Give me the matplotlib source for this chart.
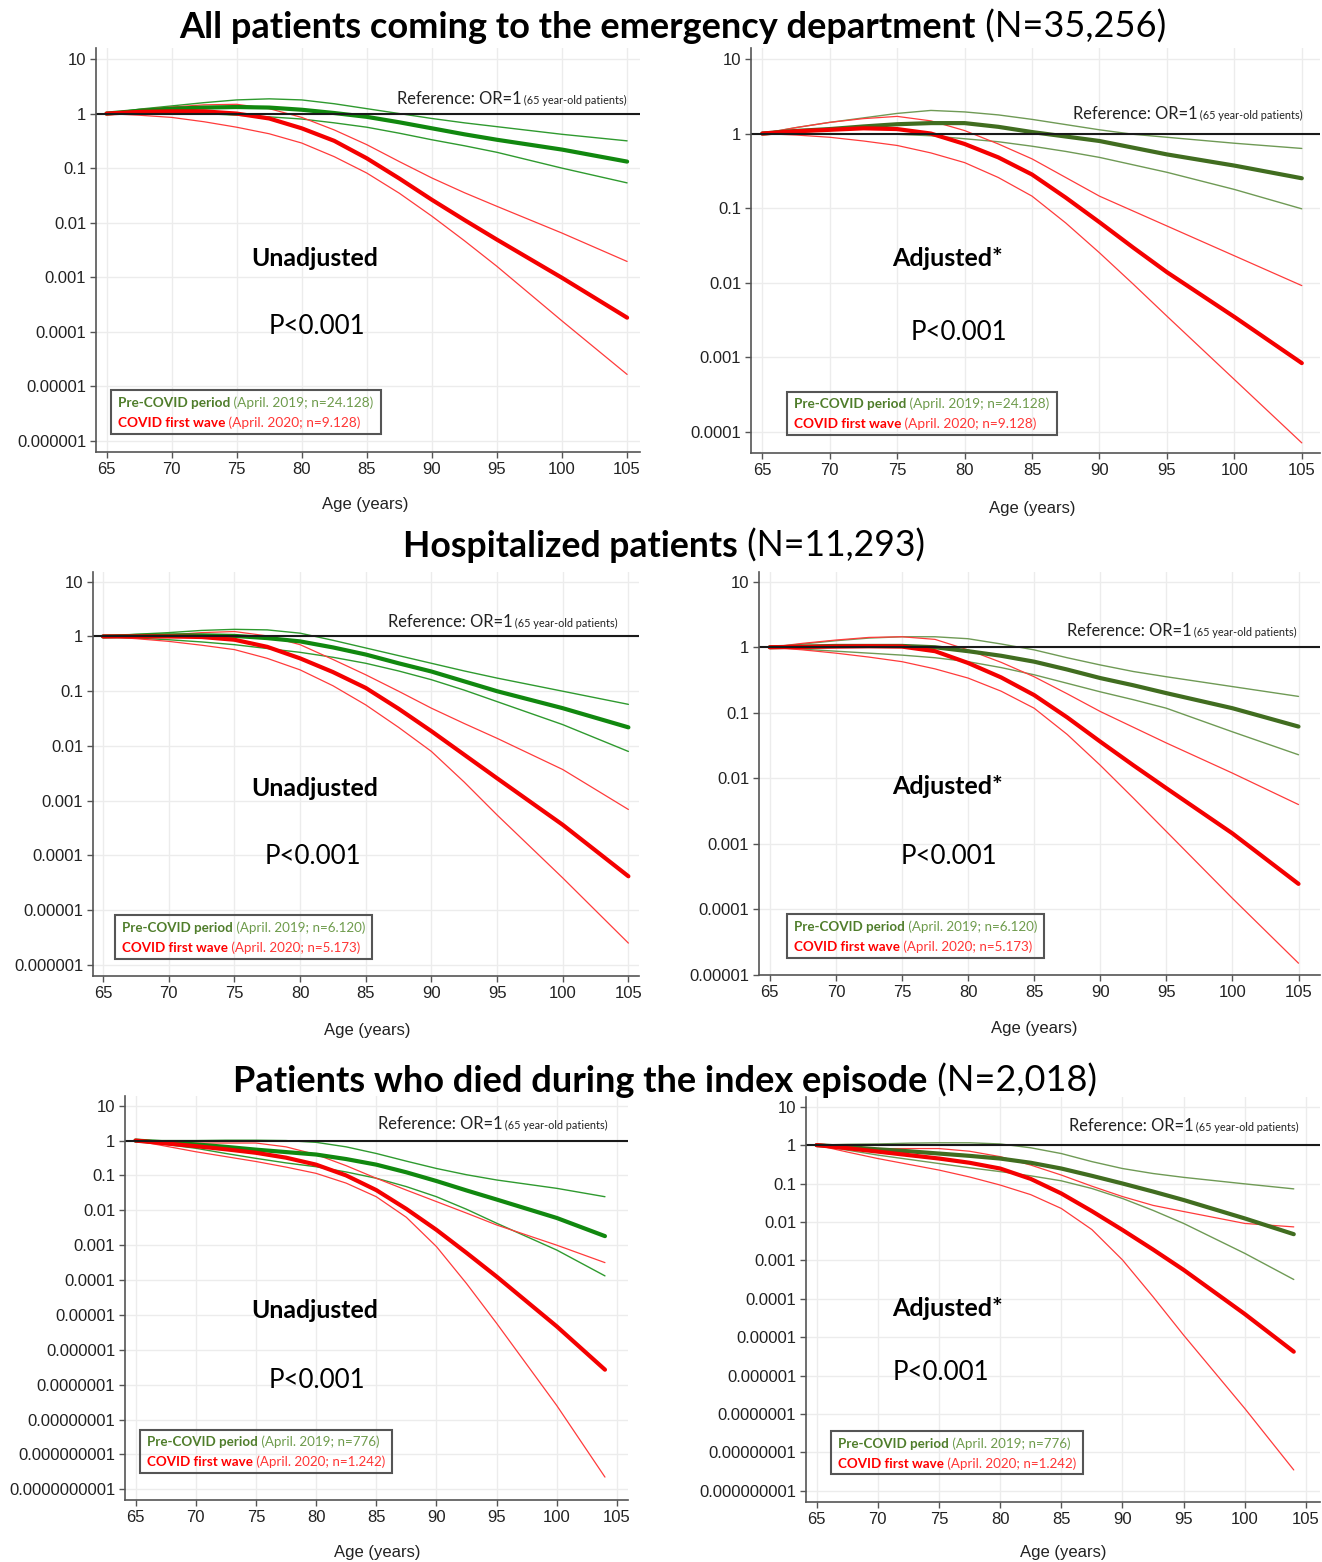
import matplotlib
matplotlib.use('Agg')
import matplotlib.pyplot as plt
from matplotlib.patches import Rectangle
from matplotlib.ticker import FixedLocator, NullLocator
from matplotlib.transforms import IdentityTransform

W, H = 1322, 1562
FUENTE = 'Lato'
EJES = 'Liberation Sans'

VERDE_A = '#11880f'
VERDE_A_FINO = '#2f9a2f'
VERDE_B = '#416d20'
VERDE_B_FINO = '#6f9a55'
ROJO = '#f40000'
ROJO_FINO = '#ff3b3b'
LEY_VERDE = '#4f7d2b'
LEY_VERDE_CLARO = '#6e9b4c'
LEY_ROJO = '#ff0000'
LEY_ROJO_CLARO = '#ff3535'

# Edades (anos)
edad = [65, 67.5, 70, 72.5, 75, 77.5, 80, 82.5, 85, 87.5, 90, 92.5, 95, 100, 105]
edad_muertos = [65, 67.5, 70, 72.5, 75, 77.5, 80, 82.5, 85, 87.5, 90, 92.5, 95, 100, 104]

# Valores, en log10(OR)
# Urgencias - sin ajustar
a_pre = [0, 0.05, 0.09, 0.11, 0.12, 0.11, 0.07, 0.01, -0.06, -0.16, -0.27, -0.38, -0.48, -0.66, -0.88]
a_pre_sup = [0, 0.08, 0.14, 0.20, 0.25, 0.27, 0.25, 0.18, 0.09, 0.0, -0.09, -0.17, -0.24, -0.38, -0.50]
a_pre_inf = [0, 0.01, 0.03, 0.0, -0.03, -0.06, -0.10, -0.17, -0.25, -0.36, -0.48, -0.59, -0.71, -1.00, -1.27]
a_cov = [0, 0.03, 0.04, 0.04, 0.0, -0.09, -0.27, -0.50, -0.82, -1.19, -1.58, -1.95, -2.31, -3.01, -3.74]
a_cov_sup = [0, 0.07, 0.12, 0.16, 0.17, 0.09, -0.07, -0.30, -0.57, -0.88, -1.18, -1.45, -1.70, -2.19, -2.71]
a_cov_inf = [0, -0.03, -0.07, -0.15, -0.25, -0.37, -0.54, -0.79, -1.09, -1.46, -1.88, -2.33, -2.80, -3.80, -4.78]

# Urgencias - ajustado
b_pre = [0, 0.035, 0.06, 0.095, 0.125, 0.14, 0.14, 0.09, 0.02, -0.04, -0.10, -0.19, -0.28, -0.43, -0.60]
b_pre_sup = [0, 0.08, 0.15, 0.21, 0.27, 0.31, 0.29, 0.25, 0.19, 0.12, 0.05, -0.01, -0.05, -0.13, -0.20]
b_pre_inf = [0, 0.0, 0.0, -0.005, -0.01, -0.03, -0.07, -0.11, -0.17, -0.24, -0.32, -0.42, -0.52, -0.75, -1.01]
b_cov = [0, 0.03, 0.05, 0.07, 0.06, 0.0, -0.14, -0.32, -0.55, -0.86, -1.19, -1.53, -1.86, -2.46, -3.08]
b_cov_sup = [0, 0.08, 0.15, 0.20, 0.23, 0.17, 0.04, -0.14, -0.34, -0.59, -0.84, -1.04, -1.24, -1.64, -2.04]
b_cov_inf = [0, -0.02, -0.05, -0.10, -0.16, -0.26, -0.39, -0.59, -0.84, -1.20, -1.60, -2.02, -2.45, -3.30, -4.15]

# Hospitalizados - sin ajustar
c_pre = [0, 0.01, 0.02, 0.02, 0.01, -0.03, -0.09, -0.20, -0.33, -0.49, -0.64, -0.82, -1.00, -1.31, -1.66]
c_pre_sup = [0, 0.04, 0.07, 0.11, 0.13, 0.12, 0.06, -0.07, -0.21, -0.35, -0.49, -0.63, -0.76, -1.00, -1.24]
c_pre_inf = [0, -0.03, -0.06, -0.10, -0.15, -0.22, -0.29, -0.38, -0.49, -0.63, -0.79, -0.98, -1.19, -1.61, -2.10]
c_cov = [0, 0.0, 0.0, -0.01, -0.06, -0.19, -0.40, -0.65, -0.94, -1.32, -1.73, -2.16, -2.59, -3.44, -4.38]
c_cov_sup = [0, 0.02, 0.03, 0.07, 0.09, 0.01, -0.15, -0.42, -0.70, -1.00, -1.31, -1.59, -1.86, -2.43, -3.16]
c_cov_inf = [0, -0.04, -0.09, -0.16, -0.24, -0.40, -0.61, -0.90, -1.25, -1.66, -2.10, -2.66, -3.26, -4.41, -5.60]

# Hospitalizados - ajustado
d_pre = [0, 0.01, 0.02, 0.02, 0.02, 0.0, -0.06, -0.13, -0.22, -0.34, -0.47, -0.58, -0.70, -0.93, -1.21]
d_pre_sup = [0, 0.05, 0.10, 0.14, 0.16, 0.16, 0.13, 0.05, -0.04, -0.16, -0.27, -0.37, -0.45, -0.60, -0.75]
d_pre_inf = [0, -0.03, -0.06, -0.09, -0.12, -0.16, -0.22, -0.31, -0.42, -0.55, -0.68, -0.80, -0.93, -1.29, -1.64]
d_cov = [0, 0.005, 0.01, 0.015, 0.01, -0.06, -0.24, -0.46, -0.73, -1.07, -1.44, -1.80, -2.15, -2.84, -3.61]
d_cov_sup = [0, 0.06, 0.11, 0.15, 0.16, 0.12, -0.04, -0.23, -0.45, -0.71, -0.98, -1.22, -1.46, -1.92, -2.40]
d_cov_inf = [0, -0.04, -0.09, -0.15, -0.22, -0.33, -0.47, -0.67, -0.93, -1.33, -1.80, -2.30, -2.81, -3.83, -4.82]

# Fallecidos - sin ajustar
e_pre = [0, -0.05, -0.11, -0.18, -0.26, -0.33, -0.40, -0.53, -0.69, -0.91, -1.16, -1.43, -1.69, -2.22, -2.74]
e_pre_sup = [0, 0.0, 0.0, 0.01, 0.01, 0.0, -0.05, -0.18, -0.37, -0.59, -0.80, -0.98, -1.13, -1.37, -1.61]
e_pre_inf = [0, -0.11, -0.22, -0.37, -0.51, -0.64, -0.75, -0.90, -1.08, -1.32, -1.61, -1.97, -2.37, -3.14, -3.88]
e_cov = [0, -0.08, -0.16, -0.25, -0.35, -0.49, -0.69, -1.00, -1.42, -1.96, -2.56, -3.22, -3.90, -5.33, -6.57]
e_cov_sup = [0, -0.04, -0.07, -0.07, -0.07, -0.18, -0.40, -0.72, -1.08, -1.42, -1.75, -2.08, -2.42, -3.00, -3.50]
e_cov_inf = [0, -0.16, -0.32, -0.46, -0.60, -0.76, -0.94, -1.22, -1.61, -2.20, -3.04, -4.10, -5.24, -7.60, -9.65]

# Fallecidos - ajustado
f_pre = [0, -0.05, -0.11, -0.16, -0.22, -0.28, -0.35, -0.46, -0.61, -0.80, -1.00, -1.21, -1.43, -1.91, -2.32]
f_pre_sup = [0, 0.02, 0.03, 0.05, 0.06, 0.06, 0.03, -0.07, -0.22, -0.43, -0.61, -0.74, -0.84, -1.01, -1.14]
f_pre_inf = [0, -0.13, -0.26, -0.37, -0.48, -0.59, -0.69, -0.80, -0.93, -1.13, -1.39, -1.70, -2.04, -2.82, -3.50]
f_cov = [0, -0.08, -0.17, -0.26, -0.35, -0.46, -0.61, -0.88, -1.26, -1.72, -2.21, -2.72, -3.25, -4.40, -5.38]
f_cov_sup = [0, -0.05, -0.09, -0.09, -0.09, -0.16, -0.30, -0.52, -0.78, -1.07, -1.34, -1.57, -1.73, -2.04, -2.13]
f_cov_inf = [0, -0.18, -0.35, -0.50, -0.65, -0.83, -1.04, -1.29, -1.65, -2.20, -2.99, -3.95, -4.95, -6.86, -8.46]

titulos = [
    ("All patients coming to the emergency department", " (N=35,256)"),
    ("Hospitalized patients", " (N=11,293)"),
    ("Patients who died during the index episode", " (N=2,018)"),
]
leyendas = [
    (" (April. 2019; n=24.128)", " (April. 2020; n=9.128)"),
    (" (April. 2019; n=6.120)", " (April. 2020; n=5.173)"),
    (" (April. 2019; n=776)", " (April. 2020; n=1.242)"),
]

fig = plt.figure(figsize=(W / 100, H / 100), dpi=100)
fig.patch.set_facecolor('white')
rend = fig.canvas.get_renderer()


def etiqueta_log(e):
    if e >= 0:
        return str(10 ** e)
    return '0.' + '0' * (-e - 1) + '1'


def medir(partes, size):
    total = 0
    for s, w, c, rel in partes:
        t = fig.text(0, 0, s, transform=IdentityTransform(), fontsize=size * rel,
                     fontweight=w, family=FUENTE)
        total += t.get_window_extent(rend).width
        t.remove()
    return total


def texto(x, y, partes, ancho=None, ha='left', size=10, va='baseline'):
    # partes: (texto, peso, color, tamano relativo)
    if ancho is not None:
        size = size * ancho / medir(partes, size)
    objs = []
    for s, w, c, rel in partes:
        t = fig.text(0, H - y, s, transform=IdentityTransform(), fontsize=size * rel,
                     fontweight=w, color=c, va=va, ha='left', family=FUENTE)
        objs.append(t)
    total = sum(t.get_window_extent(rend).width for t in objs)
    if ha == 'left':
        cx = x
    elif ha == 'right':
        cx = x - total
    else:
        cx = x - total / 2
    for t in objs:
        t.set_x(cx)
        cx += t.get_window_extent(rend).width
    return size


def panel(izq, der, arriba, abajo, x65, x105, ysup_px, ysup, yinf_px, yinf,
          x, curvas, verde, verde_fino):
    ax = fig.add_axes([izq / W, 1 - abajo / H, (der - izq) / W, (abajo - arriba) / H])
    ax.set_yscale('log')
    ppy = (x105 - x65) / 40.0
    ax.set_xlim(65 - (x65 - izq) / ppy, 105 + (der - x105) / ppy)
    ppd = (yinf_px - ysup_px) / float(ysup - yinf)
    ax.set_ylim(10 ** (yinf - (abajo - yinf_px) / ppd), 10 ** (ysup + (ysup_px - arriba) / ppd))

    pre, pre_sup, pre_inf, cov, cov_sup, cov_inf = curvas
    for v, c, lw in [(pre_sup, verde_fino, 1.0), (pre_inf, verde_fino, 1.0),
                     (cov_sup, ROJO_FINO, 0.9), (cov_inf, ROJO_FINO, 0.9),
                     (pre, verde, 3.0), (cov, ROJO, 3.0)]:
        ax.plot(x, [10 ** e for e in v], color=c, lw=lw,
                solid_capstyle='round', solid_joinstyle='round')
    ax.axhline(1, color='#1a1a1a', lw=1.5)

    exps = list(range(ysup, yinf - 1, -1))
    ax.yaxis.set_major_locator(FixedLocator([10.0 ** e for e in exps]))
    ax.yaxis.set_minor_locator(NullLocator())
    ax.set_yticklabels([etiqueta_log(e) for e in exps])
    ax.set_xticks(range(65, 106, 5))
    ax.grid(True, color='#ececec', lw=1.0)
    ax.set_axisbelow(True)
    for s in ['top', 'right']:
        ax.spines[s].set_visible(False)
    for s in ['left', 'bottom']:
        ax.spines[s].set_color('#555555')
        ax.spines[s].set_linewidth(1.2)
    ax.tick_params(direction='out', length=4, width=1, color='#555555',
                   labelsize=12, pad=3)
    for lab in ax.get_xticklabels() + ax.get_yticklabels():
        lab.set_family(EJES)
        lab.set_color('#222222')
    return ax


def leyenda(x0, x1, y0, y1, fila):
    caja = Rectangle((x0, H - y1), x1 - x0, y1 - y0, transform=IdentityTransform(),
                     fill=False, edgecolor='#555555', lw=1.5)
    fig.patches.append(caja)
    yc = (y0 + y1) / 2.0
    linea1 = [("Pre-COVID period", 'bold', LEY_VERDE, 1),
              (leyendas[fila][0], 'normal', LEY_VERDE_CLARO, 1)]
    linea2 = [("COVID first wave", 'bold', LEY_ROJO, 1),
              (leyendas[fila][1], 'normal', LEY_ROJO_CLARO, 1)]
    ancho = x1 - x0 - 14
    tam = 10 * ancho / max(medir(linea1, 10), medir(linea2, 10))
    texto(x0 + 7, yc - 5, linea1, size=tam)
    texto(x0 + 7, yc + 15, linea2, size=tam)


def referencia(xd, yb):
    texto(xd, yb, [("Reference: OR=1", 'normal', '#222222', 1),
                   (" (65 year-old patients)", 'normal', '#222222', 0.66)], ancho=230, ha='right')


# Titulos de seccion
texto(673, 38, [(titulos[0][0], 'bold', 'black', 1), (titulos[0][1], 'normal', 'black', 1)],
      ancho=990, ha='center')
texto(664, 557, [(titulos[1][0], 'bold', 'black', 1), (titulos[1][1], 'normal', 'black', 1)],
      ancho=522, ha='center')
texto(665, 1092, [(titulos[2][0], 'bold', 'black', 1), (titulos[2][1], 'normal', 'black', 1)],
      ancho=865, ha='center')

# Paneles
panel(96, 640, 48, 452, 106.5, 627.1, 59, 1, 441, -6, edad,
      (a_pre, a_pre_sup, a_pre_inf, a_cov, a_cov_sup, a_cov_inf), VERDE_A, VERDE_A_FINO)
panel(751, 1320, 48, 453, 762.3, 1301.8, 59, 1, 431.7, -4, edad,
      (b_pre, b_pre_sup, b_pre_inf, b_cov, b_cov_sup, b_cov_inf), VERDE_B, VERDE_B_FINO)
panel(93, 639, 572, 976, 103.1, 628.4, 581.7, 1, 965, -6, edad,
      (c_pre, c_pre_sup, c_pre_inf, c_cov, c_cov_sup, c_cov_inf), VERDE_A, VERDE_A_FINO)
panel(759, 1320, 572, 975, 769.8, 1298.5, 581.7, 1, 975, -5, edad,
      (d_pre, d_pre_sup, d_pre_inf, d_cov, d_cov_sup, d_cov_inf), VERDE_B, VERDE_B_FINO)
panel(125, 628, 1096, 1500, 135.5, 617, 1105.7, 1, 1489.3, -10, edad_muertos,
      (e_pre, e_pre_sup, e_pre_inf, e_cov, e_cov_sup, e_cov_inf), VERDE_A, VERDE_A_FINO)
panel(806, 1320, 1097, 1502, 816.6, 1306, 1106.7, 1, 1490.7, -9, edad_muertos,
      (f_pre, f_pre_sup, f_pre_inf, f_cov, f_cov_sup, f_cov_inf), VERDE_B, VERDE_B_FINO)

# Referencia OR=1
referencia(627, 104)
referencia(1303, 119)
referencia(618, 627)
referencia(1297, 636)
referencia(608, 1129)
referencia(1299, 1131)

# Leyendas
leyenda(111, 381, 390, 434, 0)
leyenda(787, 1057, 392, 435, 0)
leyenda(115, 372, 915, 959, 1)
leyenda(787, 1044, 914, 958, 1)
leyenda(140, 392, 1430, 1473, 2)
leyenda(831, 1083, 1431, 1474, 2)

# Textos de cada panel
for xc, yc, txt, peso, ancho in [
        (315, 259, "Unadjusted", 'bold', 128), (317, 326, "P<0.001", 'normal', 96),
        (948, 259, "Adjusted*", 'bold', 111), (959, 332, "P<0.001", 'normal', 96),
        (315, 789, "Unadjusted", 'bold', 128), (313, 857, "P<0.001", 'normal', 96),
        (948, 787, "Adjusted*", 'bold', 111), (949, 856, "P<0.001", 'normal', 96),
        (315, 1310, "Unadjusted", 'bold', 128), (317, 1380, "P<0.001", 'normal', 96),
        (948, 1309, "Adjusted*", 'bold', 111), (941, 1372, "P<0.001", 'normal', 96)]:
    texto(xc, yc, [(txt, peso, 'black', 1)], ancho=ancho, ha='center', va='center')

# Etiquetas del eje x
for xc, yc in [(365, 504), (1032, 508), (367, 1031), (1034, 1029), (377, 1553), (1063, 1553)]:
    fig.text(xc, H - yc, "Age (years)", transform=IdentityTransform(), ha='center',
             va='center', fontsize=12, family=EJES, color='#222222')

fig.savefig('out.png', dpi=100, facecolor='white')
